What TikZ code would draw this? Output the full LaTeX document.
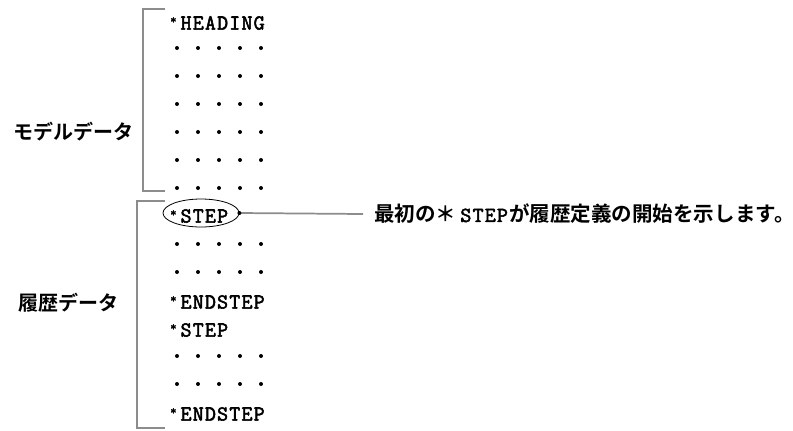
\documentclass[tikz,border=0pt]{standalone}
\usepackage{fontspec}
\newfontfamily\cjk{Noto Sans CJK JP}[BoldFont={Noto Sans CJK JP Bold}]
\newfontfamily\mono{Latin Modern Mono}[FakeBold=2.5]
\usetikzlibrary{shapes.geometric}
\def\spc#1{\ifx#1\relax\else#1\kern0.9pt\expandafter\spc\fi}
\newcommand{\myast}{\raisebox{4.5pt}{\fontsize{9}{9}\selectfont *}\hspace{3pt}}
\begin{document}
\begin{tikzpicture}[x=0.75pt,y=-0.75pt,
  bracketline/.style={draw=black!45,line width=1.3pt},
  codeline/.style={anchor=west,inner sep=0pt,font=\mono\fontsize{16}{16}\selectfont},
  label/.style={inner sep=0pt,font=\cjk\bfseries\fontsize{15}{15}\selectfont},
  dotrow/.style={fill=black,draw=none},
  conn/.style={draw=black!45,line width=1.3pt}]
\useasboundingbox (0,0) rectangle (793,430);
% brackets
\draw[bracketline] (165,9) -- (143,9) -- (143,191) -- (165,191);
\draw[bracketline] (165,201) -- (137,201) -- (137,428) -- (165,428);
% labels
\node[label] (model) at (73,132) {モデルデータ};
\node[label] (hist) at (68,303) {履歴データ};
% code lines
\node[codeline] (heading) at (170,23) {\myast\spc HEADING\relax};
\node[codeline] (step1) at (170,216) {\myast\spc STEP\relax};
\node[codeline] (end1) at (170,302) {\myast\spc ENDSTEP\relax};
\node[codeline] (step2) at (170,330) {\myast\spc STEP\relax};
\node[codeline] (end2) at (170,414) {\myast\spc ENDSTEP\relax};
% dot rows
\foreach \yy in {48,76,104,132,160,188,244,272,356,384}{
  \foreach \xx in {177,198,219,240,261}{
    \fill[dotrow] (\xx,\yy) circle (1.5pt);
  }
}
% ellipse and annotation
\node[ellipse,draw=black,line width=0.6pt,inner sep=0pt,
  minimum width=57pt,minimum height=21pt] (oval) at (201,213) {};
\node[anchor=west,inner sep=0pt] (note) at (374,214)
  {\cjk\bfseries\fontsize{15.4}{15.4}\selectfont 最初の＊\hspace{3pt}{\mono\fontsize{16}{16}\selectfont\spc STEP\relax}が履歴定義の開始を示します。};
\coordinate (cend) at (363,214);
\draw[conn] (oval.east) -- (cend);
\fill (oval.east) circle (1.5pt);
\end{tikzpicture}
\end{document}
